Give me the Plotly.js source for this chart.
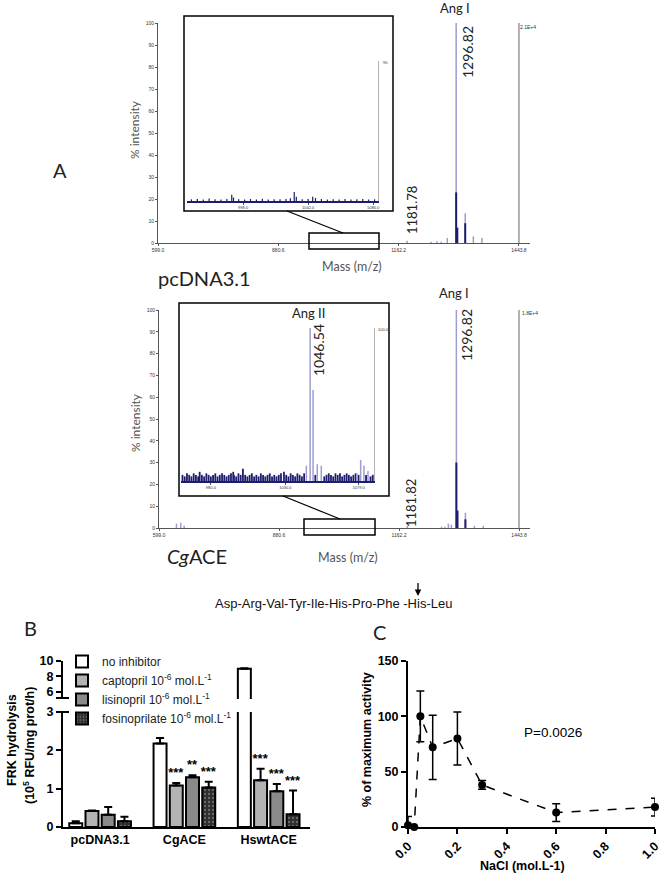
<!DOCTYPE html>
<html><head><meta charset="utf-8">
<script src="https://cdn.plot.ly/plotly-3.0.1.min.js"></script>
<style>html,body{margin:0;padding:0;background:#fff}#chart{width:661px;height:878px}</style>
</head><body><div id="chart"></div>
<script>
// ================= DATA =================
// Panel A – MALDI spectra (m/z, % intensity)
const massTicks = [599.0, 880.6, 1162.2, 1443.8];
const intensityTicks = [0, 10, 20, 30, 40, 50, 60, 70, 80, 90, 100];
// pcDNA3.1 full spectrum
const pcdnaMz   = [1181.78, 1238, 1252, 1262, 1276, 1296.82, 1318, 1337, 1357];
const pcdnaInt  = [1.0, 0.6, 0.8, 0.6, 2.3, 100, 13.5, 3, 2.3];
const pcdnaDarkMz  = [1296.82, 1299.5, 1318];
const pcdnaDarkInt = [23, 7, 9];
// pcDNA3.1 inset
const pcdnaInsetMz  = [963, 967, 971, 975, 979, 983, 987, 990.3, 991.5, 995, 999, 1003, 1007, 1011, 1015, 1019, 1023, 1027, 1030, 1032.6, 1034, 1038, 1042, 1045.1, 1047, 1051, 1055, 1059, 1063, 1067, 1071, 1075, 1079, 1083, 1087];
const pcdnaInsetInt = [1.2, 1.5, 1.0, 1.8, 1.2, 1.0, 1.5, 4.5, 2.5, 1.2, 1.0, 1.4, 1.1, 1.6, 1.0, 1.3, 1.2, 1.5, 2.0, 6.5, 3.0, 1.2, 1.4, 3.0, 2.2, 1.5, 1.0, 1.3, 1.1, 1.5, 1.0, 1.2, 1.4, 1.0, 1.2];
const pcdnaInsetTicks = [998, 1042, 1086];
// CgACE full spectrum
const cgMz   = [640, 650, 658, 1181.82, 1262, 1270, 1278, 1285, 1296.82, 1318, 1339, 1360];
const cgInt  = [2, 2.4, 1, 1, 0.6, 0.6, 2, 1.5, 100, 7, 1, 1];
const cgDarkMz  = [1296.82, 1299.5, 1318];
const cgDarkInt = [30, 8, 4];
// CgACE inset
const cgNoiseMz = [961,962.5,964,965.5,967,968.5,970,971.5,972.5,974,975.5,977,978.5,980,981.5,983,984.5,986,987.5,989,990.5,992,993.5,995,995.5,997,998.5,1000,1001.5,1003,1004.5,1006,1007.5,1009,1010.5,1012,1013.5,1015,1016.5,1018,1019.5,1021,1022.5,1024,1025.5,1027,1029,1030.5,1032,1033.5,1035,1036.5,1038,1039.5,1041,1042.5,1050,1056,1057.5,1059,1060.5,1062,1063.5,1065,1066.5,1068,1069.5,1071,1072.5,1074,1075.5,1077,1079,1084,1087,1088.5];
const cgNoiseInt = [4,3,5,4,3,5,4,3,6,4, 3,5,4,3,4,5,3,4,5,4, 3,4,5,6,4,3,5,4,8,4, 3,4,5,3,4,3,5,4,3,4, 5,3,4,3,4,5,6,4,3,5, 4,3,5,4,3,5,4,3,4,5, 4,3,5,4,5,3,4,5,4,3, 4,5,4,4,3,4];
const cgInsetPeakMz  = [1044.0, 1046.54, 1048.5, 1051.3, 1054.0, 1077.9, 1080.4, 1082.6, 1085.3];
const cgInsetPeakInt = [10, 100, 59.5, 11, 10, 5, 13.7, 10, 6.5];
const cgInsetTicks = [980, 1030, 1079];

// Panel B – FRK hydrolysis (10^5 RFU/mg prot/h)
const groups = ['pcDNA3.1', 'CgACE', 'HswtACE'];
const noInhib     = [0.10, 2.18, 9.00];
const noInhibErr  = [0.05, 0.14, 0.05];
const captopril    = [0.42, 1.08, 1.22];
const captoprilErr = [0.01, 0.07, 0.30];
const lisinopril    = [0.32, 1.30, 0.93];
const lisinoprilErr = [0.20, 0.05, 0.19];
const fosino    = [0.15, 1.03, 0.33];
const fosinoErr = [0.12, 0.15, 0.62];
const noInhibStars = [' ', ' ', ' '];
const captoprilStars = [' ', '***', '***'];
const lisinoprilStars = [' ', '**', '***'];
const fosinoStars = [' ', '***', '***'];
const lowerTicks = [0, 1, 2, 3];
const upperTicks = [6, 8, 10];

// Panel C – NaCl dependence
const nacl    = [0, 0.025, 0.05, 0.1, 0.2, 0.3, 0.6, 1.0];
const activity = [1.5, 0, 100, 72, 80, 38, 13, 18];
const activityErr = [8, 0, 23, 29, 24, 4, 8, 8];

// ================= HELPERS =================
const W = 661, H = 878;
const fx = p => p / W;
const fy = p => 1 - p / H;
function sticks(mz, h) {
  const x = [], y = [];
  mz.forEach((m, i) => { x.push(m, m, null); y.push(0, h[i], null); });
  return {x, y};
}
const NAVY = '#1d1d6e', LAV = '#9d9dcf', GREYL = '#666';
const LATO = 'Lato, Open Sans, sans-serif';
const ARIAL = 'Liberation Sans, Arial, sans-serif';

const traces = [];
function stickTrace(mz, h, xa, ya, color, width) {
  const s = sticks(mz, h);
  traces.push({x: s.x, y: s.y, xaxis: xa, yaxis: ya, mode: 'lines', type: 'scatter',
    line: {color: color, width: width}, showlegend: false, hoverinfo: 'skip', cliponaxis: false});
}
function vline(xv, xa, ya) {
  traces.push({x: [xv, xv], y: [0, 100], xaxis: xa, yaxis: ya, mode: 'lines', type: 'scatter',
    line: {color: GREYL, width: 1}, showlegend: false, hoverinfo: 'skip', cliponaxis: false});
}

// Panel A traces
stickTrace(pcdnaMz, pcdnaInt, 'x', 'y', LAV, 1.5);
stickTrace(pcdnaDarkMz, pcdnaDarkInt, 'x', 'y', NAVY, 2);
vline(massTicks[3], 'x', 'y');
stickTrace(cgMz, cgInt, 'x2', 'y2', LAV, 1.5);
stickTrace(cgDarkMz, cgDarkInt, 'x2', 'y2', NAVY, 2);
vline(massTicks[3], 'x2', 'y2');
stickTrace(pcdnaInsetMz, pcdnaInsetInt, 'x3', 'y3', NAVY, 1.2);
vline(1090, 'x3', 'y3');
stickTrace(cgNoiseMz, cgNoiseInt, 'x4', 'y4', NAVY, 1.8);
stickTrace(cgInsetPeakMz, cgInsetPeakInt, 'x4', 'y4', LAV, 1.5);
vline(1090, 'x4', 'y4');

// Panel B traces
const seriesB = [
  {name: 'no inhibitor', v: noInhib, e: noInhibErr, s: noInhibStars, color: '#ffffff'},
  {name: 'captopril 10<sup>-6</sup> mol.L<sup>-1</sup>', v: captopril, e: captoprilErr, s: captoprilStars, color: '#b3b3b3'},
  {name: 'lisinopril 10<sup>-6</sup> mol.L<sup>-1</sup>', v: lisinopril, e: lisinoprilErr, s: lisinoprilStars, color: '#8a8a8a'},
  {name: 'fosinoprilate 10<sup>-6</sup> mol.L<sup>-1</sup>', v: fosino, e: fosinoErr, s: fosinoStars, color: '#2e2e2e', pattern: true},
];
seriesB.forEach((sr, i) => {
  const marker = {color: sr.color, line: {color: '#000', width: 2}};
  if (sr.pattern) marker.pattern = {shape: '.', bgcolor: '#2e2e2e', fgcolor: '#6a6a6a', size: 4, solidity: 0.25};
  const err = {type: 'data', symmetric: false, array: sr.e, arrayminus: sr.v.map(() => 0),
    color: '#000', thickness: 2, width: 4};
  ['y5', 'y6'].forEach((ya, k) => {
    traces.push({type: 'bar', name: sr.name, x: groups, y: sr.v, xaxis: 'x5', yaxis: ya,
      marker: marker, error_y: err, showlegend: k === 0, legendgroup: 'g' + i, hoverinfo: 'skip'});
  });
  traces.push({type: 'bar', x: groups, y: sr.v.map((v, j) => v + sr.e[j]), xaxis: 'x5', yaxis: 'y7',
    marker: {color: 'rgba(0,0,0,0)', line: {width: 0}}, text: sr.s, textposition: 'outside',
    constraintext: 'none', cliponaxis: false,
    textfont: {family: ARIAL, size: 13, weight: 700, color: '#000'}, showlegend: false, hoverinfo: 'skip'});
});

// Panel C trace
traces.push({type: 'scatter', mode: 'lines+markers', x: nacl, y: activity, xaxis: 'x6', yaxis: 'y8',
  line: {color: '#000', width: 1.5, dash: 'dash'}, marker: {color: '#000', size: 8},
  error_y: {type: 'data', array: activityErr, color: '#000', thickness: 1.5, width: 4},
  cliponaxis: false, showlegend: false, hoverinfo: 'skip'});

// ================= LAYOUT =================
const specX = (d0, d1, anchor) => ({domain: [fx(d0), fx(d1)], range: [599, 1469.6], anchor: anchor,
  tickmode: 'array', tickvals: massTicks, ticktext: massTicks.map(v => v.toFixed(1)),
  tickfont: {size: 5, family: ARIAL, color: '#333'}, ticks: 'outside', ticklen: 2, tickcolor: '#555',
  showline: true, linecolor: '#555', linewidth: 1, showgrid: false, zeroline: false});
const specY = (top, bot, anchor) => ({domain: [fy(bot), fy(top)], range: [0, 100], anchor: anchor,
  tickmode: 'array', tickvals: intensityTicks, tickfont: {size: 5, family: ARIAL, color: '#333'},
  ticks: 'outside', ticklen: 2, tickcolor: '#555', showline: true, linecolor: '#555', linewidth: 1,
  showgrid: false, zeroline: false});
const insetX = (d0, d1, anchor, tv) => ({domain: [fx(d0), fx(d1)], range: [960, 1090], anchor: anchor,
  tickmode: 'array', tickvals: tv, ticktext: tv.map(v => v.toFixed(1)),
  tickfont: {size: 4, family: ARIAL, color: '#333'}, ticks: 'outside', ticklen: 1.5, tickcolor: '#555',
  showline: true, linecolor: NAVY, linewidth: 2, showgrid: false, zeroline: false});
const insetY = (top, bot, anchor) => ({domain: [fy(bot), fy(top)], range: [0, 100], anchor: anchor, visible: false});

const boldTick = {family: ARIAL, size: 12.5, weight: 700, color: '#000'};
const axB = {showline: true, linecolor: '#000', linewidth: 2, ticks: 'outside', ticklen: 5, tickwidth: 2,
  tickcolor: '#000', showgrid: false, zeroline: false, tickfont: boldTick, ticklabeloverflow: 'allow'};

const layout = {
  width: W, height: H, margin: {l: 0, r: 0, t: 0, b: 0},
  paper_bgcolor: '#fff', plot_bgcolor: 'rgba(0,0,0,0)', hovermode: false,
  barmode: 'group', bargap: 0.23, bargroupgap: 0.2,
  xaxis: specX(158, 530, 'y'), yaxis: specY(23, 243, 'x'),
  xaxis2: specX(159, 530, 'y2'), yaxis2: specY(310, 528, 'x2'),
  xaxis3: insetX(187, 379, 'y3', pcdnaInsetTicks), yaxis3: insetY(61, 201, 'x3'),
  xaxis4: insetX(181, 375, 'y4', cgInsetTicks), yaxis4: insetY(328, 481, 'x4'),
  xaxis5: Object.assign({}, axB, {domain: [fx(63), fx(310)], anchor: 'y5', type: 'category',
    range: [-0.44, 2.49], ticks: '', ticklen: 0}),
  yaxis5: Object.assign({}, axB, {domain: [fy(827), fy(712)], anchor: 'x5', range: [0, 3],
    tickmode: 'array', tickvals: lowerTicks}),
  yaxis6: Object.assign({}, axB, {domain: [fy(699), fy(661)], anchor: 'x5', range: [5.05, 10],
    tickmode: 'array', tickvals: upperTicks}),
  yaxis7: {overlaying: 'y5', anchor: 'x5', range: [0, 3], visible: false},
  xaxis6: Object.assign({}, axB, {domain: [fx(408), fx(655)], anchor: 'y8', range: [0, 1],
    tickmode: 'linear', tick0: 0, dtick: 0.2, tickformat: '.1f', tickangle: -45}),
  yaxis8: Object.assign({}, axB, {domain: [fy(827), fy(661)], anchor: 'x6', range: [0, 150],
    tickmode: 'linear', tick0: 0, dtick: 50}),
  legend: {x: fx(62), y: fy(647), xanchor: 'left', yanchor: 'top', bgcolor: 'rgba(0,0,0,0)',
    font: {family: ARIAL, size: 12, color: '#222'}, tracegroupgap: 0, itemwidth: 30},
  shapes: [],
  annotations: []
};

const S = layout.shapes;
const rect = (x0, y0, x1, y1) => S.push({type: 'rect', xref: 'paper', yref: 'paper',
  x0: fx(x0), x1: fx(x1), y0: fy(y0), y1: fy(y1), line: {color: '#000', width: 1.5}});
const seg = (x0, y0, x1, y1, w) => S.push({type: 'line', xref: 'paper', yref: 'paper',
  x0: fx(x0), x1: fx(x1), y0: fy(y0), y1: fy(y1), line: {color: '#000', width: w || 1.2}});
rect(184, 16, 393, 211); rect(309, 233, 379, 249); seg(287, 211, 343, 233);
rect(179, 303, 389, 496); rect(304, 519, 375, 535); seg(283, 496, 340, 519);
seg(56, 712, 69, 712, 2); seg(56, 698, 69, 698, 2);

const A = layout.annotations;
const ann = (text, x, y, size, opts) => A.push(Object.assign({text: text, xref: 'paper', yref: 'paper',
  x: fx(x), y: fy(y), xanchor: 'center', yanchor: 'middle', showarrow: false,
  font: {family: LATO, size: size, color: '#222'}}, opts || {}));
ann('A', 60, 170, 20);
ann('Ang I', 455, 8, 13);
ann('1296.82', 467, 52, 14, {textangle: -90});
ann('1181.78', 412, 210, 13, {textangle: -90});
ann('2.1E+4', 518, 27, 5, {xanchor: 'left', font: {family: ARIAL, size: 5, color: '#333'}});
ann('90', 381, 62, 4, {xanchor: 'left', font: {family: ARIAL, size: 4, color: '#333'}});
ann('% intensity', 135, 130, 12, {textangle: -90, font: {family: LATO, size: 12, color: '#555'}});
ann('Mass (m/z)', 352, 266, 12.5, {font: {family: LATO, size: 12.5, color: '#555'}});
ann('pcDNA3.1', 204, 278, 20);
ann('Ang I', 454, 293, 13);
ann('1296.82', 466, 335, 14, {textangle: -90});
ann('1181.82', 411, 503, 13, {textangle: -90});
ann('1.8E+4', 520, 313, 5, {xanchor: 'left', font: {family: ARIAL, size: 5, color: '#333'}});
ann('Ang II', 308, 313, 13);
ann('1046.54', 319, 350, 14, {textangle: -90});
ann('100.0', 376, 329, 4, {xanchor: 'left', font: {family: ARIAL, size: 4, color: '#333'}});
ann('% intensity', 135, 423, 12, {textangle: -90, font: {family: LATO, size: 12, color: '#555'}});
ann('Mass (m/z)', 348, 557, 12.5, {font: {family: LATO, size: 12.5, color: '#555'}});
ann('<i>Cg</i>ACE', 197, 556, 20);
ann('Asp-Arg-Val-Tyr-Ile-His-Pro-Phe -His-Leu', 333, 603, 13, {font: {family: ARIAL, size: 13, color: '#111'}});
A.push({text: ' ', xref: 'paper', yref: 'paper', x: fx(418), y: fy(596), ax: 0, ay: -23,
  showarrow: true, arrowhead: 2, arrowsize: 1, arrowwidth: 1.3, arrowcolor: '#000'});
ann('B', 30, 628, 20);
ann('C', 380, 632, 20);
ann('FRK hydrolysis', 12, 740, 12.5, {textangle: -90, font: {family: ARIAL, size: 12.5, weight: 700, color: '#000'}});
ann('(10<sup>5</sup> RFU/mg prot/h)', 29, 746, 12.5, {textangle: -90, font: {family: ARIAL, size: 12.5, weight: 700, color: '#000'}});
ann('% of maximum activity', 367, 740, 12.5, {textangle: -90, font: {family: ARIAL, size: 12.5, weight: 700, color: '#000'}});
ann('NaCl (mol.L-1)', 522, 866, 12.5, {font: {family: ARIAL, size: 12.5, weight: 700, color: '#000'}});
ann('P=0.0026', 553, 732, 13.5, {font: {family: ARIAL, size: 13.5, color: '#000'}});

Plotly.newPlot('chart', traces, layout, {staticPlot: true, displayModeBar: false});
</script></body></html>
